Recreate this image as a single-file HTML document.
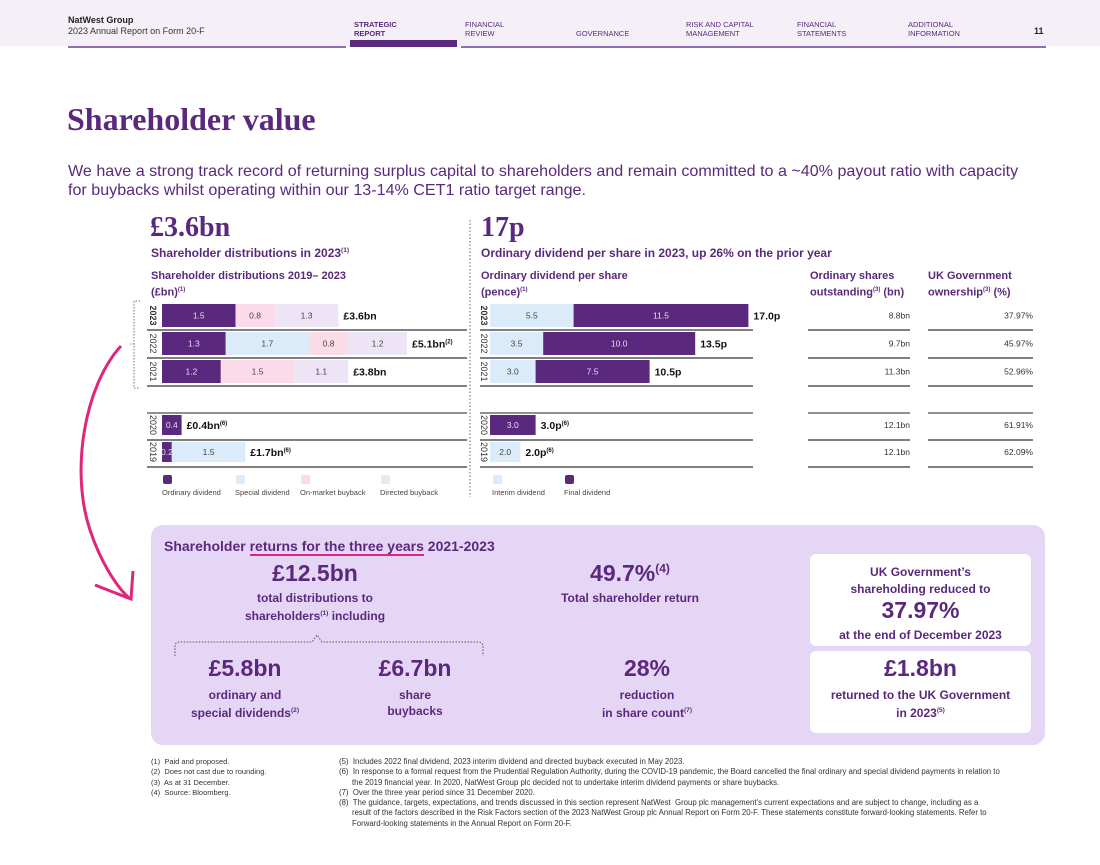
<!DOCTYPE html>
<html><head><meta charset="utf-8">
<style>
body{margin:0;width:1100px;height:865px;position:relative;background:#fff;font-family:"Liberation Sans",sans-serif;color:#5a287d;overflow:hidden}
.a{position:absolute;white-space:nowrap}
.hd{font-size:7.5px;color:#5a287d;line-height:9px}
.b{font-weight:bold}
.c{text-align:center}
sup{font-size:0.55em}
.fn{font-size:7.5px;color:#333;line-height:10px}
</style></head><body>
<div class="a" style="left:0;top:0;width:1100px;height:46px;background:#f5f0f8"></div>
<div class="a" style="left:68px;top:15px;font-size:9px;font-weight:bold;color:#222">NatWest Group</div>
<div class="a" style="left:68px;top:26px;font-size:9px;color:#333">2023 Annual Report on Form 20-F</div>
<div class="a hd b" style="left:354px;top:20px">STRATEGIC<br>REPORT</div>
<div class="a hd" style="left:465px;top:20px">FINANCIAL<br>REVIEW</div>
<div class="a hd" style="left:576px;top:29px">GOVERNANCE</div>
<div class="a hd" style="left:686px;top:20px">RISK AND CAPITAL<br>MANAGEMENT</div>
<div class="a hd" style="left:797px;top:20px">FINANCIAL<br>STATEMENTS</div>
<div class="a hd" style="left:908px;top:20px">ADDITIONAL<br>INFORMATION</div>
<div class="a b" style="left:1034px;top:26px;font-size:9px;color:#222">11</div>
<div class="a" style="left:68px;top:46px;width:278px;height:2px;background:#8f6fb0"></div>
<div class="a" style="left:350px;top:40px;width:107px;height:7px;background:#5a287d"></div>
<div class="a" style="left:461px;top:46px;width:585px;height:2px;background:#8f6fb0"></div>

<div class="a" style="left:67px;top:101px;font-family:'Liberation Serif',serif;font-weight:bold;font-size:32px;color:#5a287d">Shareholder value</div>
<div class="a" style="left:68px;top:162px;font-size:16.1px;line-height:19px;color:#5a287d">We have a strong track record of returning surplus capital to shareholders and remain committed to a ~40% payout ratio with capacity<br>for buybacks whilst operating within our 13-14% CET1 ratio target range.</div>

<div class="a" style="left:150px;top:212px;font-family:'Liberation Serif',serif;font-weight:bold;font-size:28px">£3.6bn</div>
<div class="a b" style="left:151px;top:246px;font-size:12px">Shareholder distributions in 2023<sup>(1)</sup></div>
<div class="a b" style="left:151px;top:269px;font-size:11px;line-height:14px">Shareholder distributions 2019– 2023<br>(£bn)<sup>(1)</sup></div>

<div class="a" style="left:481px;top:212px;font-family:'Liberation Serif',serif;font-weight:bold;font-size:28px">17p</div>
<div class="a b" style="left:481px;top:246px;font-size:12px">Ordinary dividend per share in 2023, up 26% on the prior year</div>
<div class="a b" style="left:481px;top:269px;font-size:11px;line-height:14px">Ordinary dividend per share<br>(pence)<sup>(1)</sup></div>
<div class="a b" style="left:810px;top:269px;font-size:11px;line-height:14px">Ordinary shares<br>outstanding<sup>(3)</sup> (bn)</div>
<div class="a b" style="left:928px;top:269px;font-size:11px;line-height:14px">UK Government<br>ownership<sup>(3)</sup> (%)</div>

<svg class="a" id="chart" style="left:0;top:0" width="1100" height="520"></svg>

<svg class="a" style="left:0;top:0" width="200" height="620">
<path d="M140 301 H134 V388 H140 M134 344 H130" fill="none" stroke="#777" stroke-width="1" stroke-dasharray="1.5 1.5"/>
<path d="M121 346 C85 385 70 470 90 530 C100 560 115 585 129 598" fill="none" stroke="#e0267a" stroke-width="3"/>
<path d="M133 571 L131 599 L95 585" fill="none" stroke="#e0267a" stroke-width="3" stroke-linejoin="miter"/>
</svg>

<div class="a" style="left:151px;top:525px;width:894px;height:220px;background:#e6d6f6;border-radius:12px"></div>
<div class="a b" style="left:164px;top:538px;font-size:14px">Shareholder <span style="border-bottom:2px solid #e0267a">returns for the three years</span> 2021-2023</div>
<div class="a b c" style="left:230px;top:560px;width:170px;font-size:23px">£12.5bn</div>
<div class="a b c" style="left:215px;top:590px;width:200px;font-size:12px;line-height:16px">total distributions to<br>shareholders<sup>(1)</sup> including</div>
<svg class="a" style="left:170px;top:630px" width="320" height="30"><path d="M5 26 V16 Q5 12 10 12 H142 L147 5 L152 12 H308 Q313 12 313 17 V26" fill="none" stroke="#555" stroke-width="1" stroke-dasharray="1.5 1.5"/></svg>
<div class="a b c" style="left:175px;top:655px;width:140px;font-size:23px">£5.8bn</div>
<div class="a b c" style="left:165px;top:687px;width:160px;font-size:12px;line-height:16px">ordinary and<br>special dividends<sup>(2)</sup></div>
<div class="a b c" style="left:345px;top:655px;width:140px;font-size:23px">£6.7bn</div>
<div class="a b c" style="left:345px;top:687px;width:140px;font-size:12px;line-height:16px">share<br>buybacks</div>
<div class="a b c" style="left:560px;top:560px;width:140px;font-size:23px">49.7%<sup style="font-size:12px">(4)</sup></div>
<div class="a b c" style="left:545px;top:591px;width:170px;font-size:12px">Total shareholder return</div>
<div class="a b c" style="left:577px;top:655px;width:140px;font-size:23px">28%</div>
<div class="a b c" style="left:567px;top:687px;width:160px;font-size:12px;line-height:16px">reduction<br>in share count<sup>(7)</sup></div>
<div class="a" style="left:810px;top:554px;width:221px;height:92px;background:#fff;border-radius:6px"></div>
<div class="a b c" style="left:810px;top:564px;width:221px;font-size:12px;line-height:17px">UK Government’s<br>shareholding reduced to</div>
<div class="a b c" style="left:810px;top:597px;width:221px;font-size:23px">37.97%</div>
<div class="a b c" style="left:810px;top:628px;width:221px;font-size:12px">at the end of December 2023</div>
<div class="a" style="left:810px;top:651px;width:221px;height:82px;background:#fff;border-radius:6px"></div>
<div class="a b c" style="left:810px;top:655px;width:221px;font-size:23px">£1.8bn</div>
<div class="a b c" style="left:810px;top:687px;width:221px;font-size:12px;line-height:16px">returned to the UK Government<br>in 2023<sup>(5)</sup></div>

<div class="a fn" style="left:151px;top:757px;line-height:10.3px">(1)&nbsp; Paid and proposed.<br>(2)&nbsp; Does not cast due to rounding.<br>(3)&nbsp; As at 31 December.<br>(4)&nbsp; Source: Bloomberg.</div>
<div class="a fn" style="left:339px;top:757px;font-size:7.8px;line-height:10.3px">(5)&nbsp; Includes 2022 final dividend, 2023 interim dividend and directed buyback executed in May 2023.<br>(6)&nbsp; In response to a formal request from the Prudential Regulation Authority, during the COVID-19 pandemic, the Board cancelled the final ordinary and special dividend payments in relation to<br>&nbsp;&nbsp;&nbsp;&nbsp;&nbsp; the 2019 financial year. In 2020, NatWest Group plc decided not to undertake interim dividend payments or share buybacks.<br>(7)&nbsp; Over the three year period since 31 December 2020.<br>(8)&nbsp; The guidance, targets, expectations, and trends discussed in this section represent NatWest&nbsp; Group plc management’s current expectations and are subject to change, including as a<br>&nbsp;&nbsp;&nbsp;&nbsp;&nbsp; result of the factors described in the Risk Factors section of the 2023 NatWest Group plc Annual Report on Form 20-F. These statements constitute forward-looking statements. Refer to<br>&nbsp;&nbsp;&nbsp;&nbsp;&nbsp; Forward-looking statements in the Annual Report on Form 20-F.</div>

<script>
const years = ["2023","2022","2021","2020","2019"];
const ordinaryDiv = [1.5,1.3,1.2,0.4,0.2];
const specialDiv = [0,1.7,0,0,1.5];
const onMarket = [0.8,0.8,1.5,0,0];
const directed = [1.3,1.2,1.1,0,0];
const distTotals = ["£3.6bn","£5.1bn","£3.8bn","£0.4bn","£1.7bn"];
const distSup = ["","(2)","","(6)","(6)"];
const interimDiv = [5.5,3.5,3.0,0,2.0];
const finalDiv = [11.5,10.0,7.5,3.0,0];
const dpsTotals = ["17.0p","13.5p","10.5p","3.0p","2.0p"];
const dpsSup = ["","","","(6)","(6)"];
const sharesOut = ["8.8bn","9.7bn","11.3bn","12.1bn","12.1bn"];
const govOwn = ["37.97%","45.97%","52.96%","61.91%","62.09%"];

const NS="http://www.w3.org/2000/svg";
const svg=document.getElementById('chart');
const rowTop=[304,332,360,415,442];
const rowH=[23,23,23,20,20];
const lineY=[330,358,386,440,467];
const xL=v=>162+v*49;
const xR=v=>490+v*15.2;
function mk(tag,attrs){const e=document.createElementNS(NS,tag);for(const k in attrs)e.setAttribute(k,attrs[k]);svg.appendChild(e);return e;}
function txt(x,y,s,size,fill,weight,anchor){const e=mk('text',{x:x,y:y,'font-size':size,fill:fill,'font-weight':weight||'normal','text-anchor':anchor||'middle','font-family':'Liberation Sans, sans-serif'});e.textContent=s;return e;}

const sep=mk('line',{x1:470,y1:220,x2:470,y2:497,stroke:'#666','stroke-dasharray':'1.5 2'});



[[147,467],[480,753],[808,910],[928,1033]].forEach(function(r){
  lineY.forEach(function(y){
    const l=mk('line',{x1:r[0],y1:y,x2:r[1],y2:y,stroke:'#555','stroke-width':1.5});
    
    
  });
  const t=mk('line',{x1:r[0],y1:413,x2:r[1],y2:413,stroke:'#222','stroke-width':1});
  
  
});

const leftSeries=[[ordinaryDiv,'#5a287d','#e8dcf2','ordinary'],[specialDiv,'#dcebf9','#444','special'],[onMarket,'#fcdbe8','#444','on-market'],[directed,'#ede5f6','#444','directed']];
years.forEach(function(yr,i){
  const cy=rowTop[i]+rowH[i]/2;
  [153,484].forEach(function(lx){
    const yl=txt(lx,cy,yr,9,'#333',i===0?'bold':'normal','middle');
    yl.setAttribute('transform','rotate(90 '+lx+' '+cy+')');
    yl.setAttribute('dominant-baseline','central');
    
    
  });
  let acc=0;
  leftSeries.forEach(function(s){
    const v=s[0][i]; if(!v) return;
    const r=mk('rect',{x:xL(acc),y:rowTop[i],width:xL(acc+v)-xL(acc),height:rowH[i],fill:s[1]});
    
    
    const lbl=txt((xL(acc)+xL(acc+v))/2,cy+3,v.toFixed(1),8.5,s[2]);
    
    
    acc+=v;
  });
  const tl=txt(xL(acc)+5,cy+4,distTotals[i],10.5,'#111','bold','start');
  
  
  if(distSup[i]){const ts=document.createElementNS(NS,'tspan');ts.setAttribute('font-size','6');ts.setAttribute('dy','-4');ts.textContent=distSup[i];tl.appendChild(ts);}

  let accR=0;
  [[interimDiv,'#dcebf9','#444','interim'],[finalDiv,'#5a287d','#e8dcf2','final']].forEach(function(s){
    const v=s[0][i]; if(!v) return;
    const r=mk('rect',{x:xR(accR),y:rowTop[i],width:xR(accR+v)-xR(accR),height:rowH[i],fill:s[1]});
    
    
    const lbl=txt((xR(accR)+xR(accR+v))/2,cy+3,v.toFixed(1),8.5,s[2]);
    
    
    accR+=v;
  });
  const tr=txt(xR(accR)+5,cy+4,dpsTotals[i],10.5,'#111','bold','start');
  
  
  if(dpsSup[i]){const ts=document.createElementNS(NS,'tspan');ts.setAttribute('font-size','6');ts.setAttribute('dy','-4');ts.textContent=dpsSup[i];tr.appendChild(ts);}

  const so=txt(910,cy+3,sharesOut[i],8.5,'#333','normal','end');
  
  
  const go=txt(1033,cy+3,govOwn[i],8.5,'#333','normal','end');
  
  
});

const legendL=[['Ordinary dividend','#5a287d',162],['Special dividend','#dcebf9',235],['On-market buyback','#fcdbe8',300],['Directed buyback','#ede5f6',380],['Interim dividend','#dcebf9',492],['Final dividend','#5a287d',564]];
legendL.forEach(function(l){
  const r=mk('rect',{x:l[2]+1,y:475,width:9,height:9,rx:2,fill:l[1]});
  
  
  const t=txt(l[2],495,l[0],7.5,'#444','normal','start');
  
  
});
</script>
</body></html>
